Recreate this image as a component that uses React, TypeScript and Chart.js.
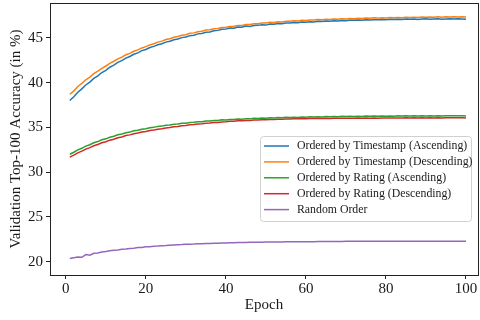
import React, { useEffect, useRef } from "react";
import { Chart, registerables } from "chart.js";

Chart.register(...registerables);

const epochs: number[] = Array.from({ length: 100 }, (_, i) => i + 1);

const seriesLabels = [
  "Ordered by Timestamp (Ascending)",
  "Ordered by Timestamp (Descending)",
  "Ordered by Rating (Ascending)",
  "Ordered by Rating (Descending)",
  "Random Order",
];

const seriesColors = ["#1f77b4", "#ff7f0e", "#2ca02c", "#d62728", "#9467bd"];

const timestampAsc = [
  38.0, 38.42, 38.93, 39.3, 39.74, 40.06, 40.47, 40.76, 41.13, 41.38,
  41.72, 41.95, 42.26, 42.46, 42.74, 42.92, 43.17, 43.33, 43.58, 43.71,
  43.93, 44.05, 44.24, 44.35, 44.53, 44.63, 44.8, 44.88, 45.03, 45.1,
  45.25, 45.3, 45.45, 45.49, 45.62, 45.65, 45.8, 45.84, 45.96, 45.98,
  46.1, 46.08, 46.21, 46.2, 46.32, 46.27, 46.39, 46.4, 46.47, 46.43,
  46.56, 46.52, 46.61, 46.58, 46.67, 46.66, 46.72, 46.69, 46.77, 46.74,
  46.81, 46.79, 46.86, 46.82, 46.89, 46.86, 46.92, 46.9, 46.95, 46.92,
  46.98, 46.96, 47.0, 46.97, 47.03, 47.0, 47.04, 47.02, 47.06, 47.03,
  47.07, 47.05, 47.09, 47.06, 47.1, 47.08, 47.12, 47.05, 47.1, 47.13,
  47.08, 47.12, 47.15, 47.09, 47.12, 47.14, 47.1, 47.13, 47.12, 47.08,
];

const timestampDesc = [
  38.7, 39.08, 39.57, 39.92, 40.32, 40.62, 41.0, 41.28, 41.6, 41.86,
  42.15, 42.39, 42.66, 42.85, 43.11, 43.27, 43.51, 43.66, 43.88, 44.02,
  44.22, 44.35, 44.53, 44.64, 44.81, 44.91, 45.07, 45.15, 45.3, 45.36,
  45.51, 45.56, 45.69, 45.74, 45.87, 45.9, 46.02, 46.05, 46.15, 46.18,
  46.27, 46.29, 46.39, 46.39, 46.49, 46.49, 46.58, 46.58, 46.66, 46.66,
  46.74, 46.73, 46.81, 46.79, 46.87, 46.85, 46.92, 46.9, 46.97, 46.95,
  47.01, 46.99, 47.05, 47.02, 47.08, 47.06, 47.11, 47.09, 47.14, 47.12,
  47.17, 47.14, 47.2, 47.17, 47.22, 47.19, 47.24, 47.21, 47.26, 47.23,
  47.28, 47.24, 47.29, 47.26, 47.31, 47.27, 47.32, 47.29, 47.33, 47.3,
  47.34, 47.31, 47.35, 47.32, 47.36, 47.33, 47.37, 47.33, 47.36, 47.34,
];

const ratingAsc = [
  32.0, 32.22, 32.49, 32.66, 32.9, 33.06, 33.28, 33.41, 33.61, 33.72,
  33.9, 34.0, 34.17, 34.25, 34.4, 34.47, 34.61, 34.67, 34.8, 34.84,
  34.96, 35.0, 35.11, 35.14, 35.24, 35.26, 35.36, 35.37, 35.46, 35.47,
  35.55, 35.56, 35.64, 35.63, 35.71, 35.7, 35.78, 35.76, 35.84, 35.82,
  35.89, 35.87, 35.93, 35.91, 35.97, 35.95, 36.01, 35.98, 36.04, 36.01,
  36.07, 36.04, 36.09, 36.07, 36.12, 36.09, 36.14, 36.11, 36.16, 36.13,
  36.18, 36.15, 36.19, 36.17, 36.21, 36.18, 36.22, 36.19, 36.23, 36.21,
  36.24, 36.22, 36.25, 36.22, 36.26, 36.23, 36.27, 36.24, 36.27, 36.25,
  36.28, 36.25, 36.29, 36.26, 36.29, 36.27, 36.3, 36.27, 36.3, 36.28,
  36.3, 36.28, 36.31, 36.28, 36.31, 36.29, 36.31, 36.29, 36.3, 36.27,
];

const ratingDesc = [
  31.68, 31.9, 32.15, 32.35, 32.57, 32.74, 32.95, 33.09, 33.28, 33.4,
  33.57, 33.68, 33.84, 33.93, 34.08, 34.16, 34.29, 34.36, 34.48, 34.54,
  34.65, 34.7, 34.8, 34.85, 34.94, 34.98, 35.07, 35.1, 35.18, 35.21,
  35.29, 35.31, 35.38, 35.4, 35.46, 35.48, 35.54, 35.55, 35.61, 35.62,
  35.67, 35.68, 35.73, 35.73, 35.78, 35.78, 35.82, 35.82, 35.86, 35.85,
  35.89, 35.88, 35.92, 35.91, 35.94, 35.93, 35.96, 35.95, 35.98, 35.97,
  35.99, 35.98, 36.0, 35.99, 36.01, 36.0, 36.02, 36.01, 36.03, 36.01,
  36.03, 36.02, 36.04, 36.02, 36.04, 36.03, 36.05, 36.03, 36.05, 36.04,
  36.06, 36.04, 36.06, 36.05, 36.07, 36.05, 36.07, 36.05, 36.07, 36.06,
  36.08, 36.06, 36.08, 36.06, 36.08, 36.07, 36.08, 36.07, 36.08, 36.06,
];

const randomOrder = [
  20.35, 20.43, 20.5, 20.48, 20.78, 20.72, 20.92, 20.96, 21.08, 21.12,
  21.2, 21.26, 21.3, 21.38, 21.41, 21.47, 21.5, 21.56, 21.58, 21.65,
  21.67, 21.72, 21.74, 21.78, 21.8, 21.83, 21.86, 21.88, 21.9, 21.93,
  21.95, 21.96, 21.99, 22.0, 22.02, 22.03, 22.05, 22.06, 22.08, 22.08,
  22.1, 22.11, 22.12, 22.13, 22.14, 22.15, 22.16, 22.16, 22.17, 22.18,
  22.19, 22.19, 22.2, 22.2, 22.21, 22.21, 22.22, 22.22, 22.22, 22.23,
  22.23, 22.23, 22.24, 22.24, 22.24, 22.25, 22.25, 22.25, 22.25, 22.26,
  22.26, 22.26, 22.26, 22.26, 22.27, 22.27, 22.27, 22.27, 22.27, 22.27,
  22.27, 22.28, 22.28, 22.28, 22.28, 22.28, 22.28, 22.28, 22.28, 22.28,
  22.28, 22.28, 22.28, 22.28, 22.28, 22.28, 22.28, 22.28, 22.28, 22.27,
];

const seriesValues = [timestampAsc, timestampDesc, ratingAsc, ratingDesc, randomOrder];

const xTicks = [0, 20, 40, 60, 80, 100];
const yTicks = [20, 25, 30, 35, 40, 45];

const xTitle = "Epoch";
const yTitle = "Validation Top-100 Accuracy (in %)";

const FONT = "'Liberation Serif', 'DejaVu Serif', serif";

const framePlugin = {
  id: "frame",
  afterDraw(chart: any) {
    const { ctx, chartArea } = chart;
    const { left, top, right, bottom } = chartArea;
    ctx.save();
    ctx.strokeStyle = "#222";
    ctx.lineWidth = 1;
    ctx.strokeRect(Math.round(left) + 0.5, Math.round(top) + 0.5, Math.round(right - left), Math.round(bottom - top));

    // legend
    const bx = 260, by = 136, bw = 211, bh = 85;
    ctx.fillStyle = "rgba(255,255,255,0.8)";
    ctx.strokeStyle = "#d0d0d0";
    ctx.lineWidth = 1;
    ctx.beginPath();
    if ((ctx as any).roundRect) (ctx as any).roundRect(bx + 0.5, by + 0.5, bw, bh, 3);
    else ctx.rect(bx + 0.5, by + 0.5, bw, bh);
    ctx.fill();
    ctx.stroke();
    ctx.font = `11.8px ${FONT}`;
    ctx.textBaseline = "middle";
    ctx.textAlign = "left";
    chart.data.datasets.forEach((ds: any, i: number) => {
      const y = by + 10 + i * 15.9;
      ctx.strokeStyle = ds.borderColor;
      ctx.lineWidth = 1.5;
      ctx.beginPath();
      ctx.moveTo(264, y);
      ctx.lineTo(289, y);
      ctx.stroke();
      ctx.fillStyle = "#1a1a1a";
      ctx.fillText(ds.label, 297, y);
    });
    ctx.restore();
  },
};

export default function App() {
  const ref = useRef<HTMLCanvasElement | null>(null);
  useEffect(() => {
    if (!ref.current) return;
    const chart = new Chart(ref.current, {
      type: "line",
      data: {
        datasets: seriesLabels.map((label, i) => ({
          label,
          data: epochs.map((e, j) => ({ x: e, y: seriesValues[i][j] })),
          borderColor: seriesColors[i],
          backgroundColor: seriesColors[i],
          borderWidth: 1.5,
          pointRadius: 0,
          tension: 0,
        })),
      },
      options: {
        animation: false,
        responsive: false,
        events: [],
        layout: { padding: { top: 3, right: 2, left: 0, bottom: 0 } },
        plugins: { legend: { display: false }, tooltip: { enabled: false } },
        scales: {
          x: {
            type: "linear",
            min: -3.95,
            max: 103,
            afterBuildTicks: (s: any) => {
              s.ticks = xTicks.map((v) => ({ value: v }));
            },
            afterFit: (s: any) => {
              s.height = 45;
              s.paddingLeft = 0;
              s.paddingRight = 0;
            },
            grid: { drawOnChartArea: false, drawTicks: true, tickLength: 4, color: "#222" },
            border: { display: false },
            ticks: { font: { family: FONT, size: 15 }, color: "#1a1a1a", padding: 1, maxRotation: 0 },
            title: { display: true, text: xTitle, font: { family: FONT, size: 15 }, color: "#1a1a1a", padding: { top: 0, bottom: 6 } },
          },
          y: {
            type: "linear",
            min: 18.5,
            max: 48.9,
            afterBuildTicks: (s: any) => {
              s.ticks = yTicks.map((v) => ({ value: v }));
            },
            afterFit: (s: any) => {
              s.width = 50;
              s.paddingTop = 0;
              s.paddingBottom = 0;
            },
            grid: { drawOnChartArea: false, drawTicks: true, tickLength: 4, color: "#222" },
            border: { display: false },
            ticks: { font: { family: FONT, size: 15 }, color: "#1a1a1a", padding: 3 },
            title: { display: true, text: yTitle, font: { family: FONT, size: 15 }, color: "#1a1a1a", padding: { top: 7, bottom: 0 } },
          },
        },
      },
      plugins: [framePlugin],
    });
    return () => chart.destroy();
  }, []);
  return (
    <div style={{ position: "absolute", left: 0, top: 0, width: 480, height: 320, background: "#fff" }}>
      <canvas ref={ref} width={480} height={320} />
    </div>
  );
}
